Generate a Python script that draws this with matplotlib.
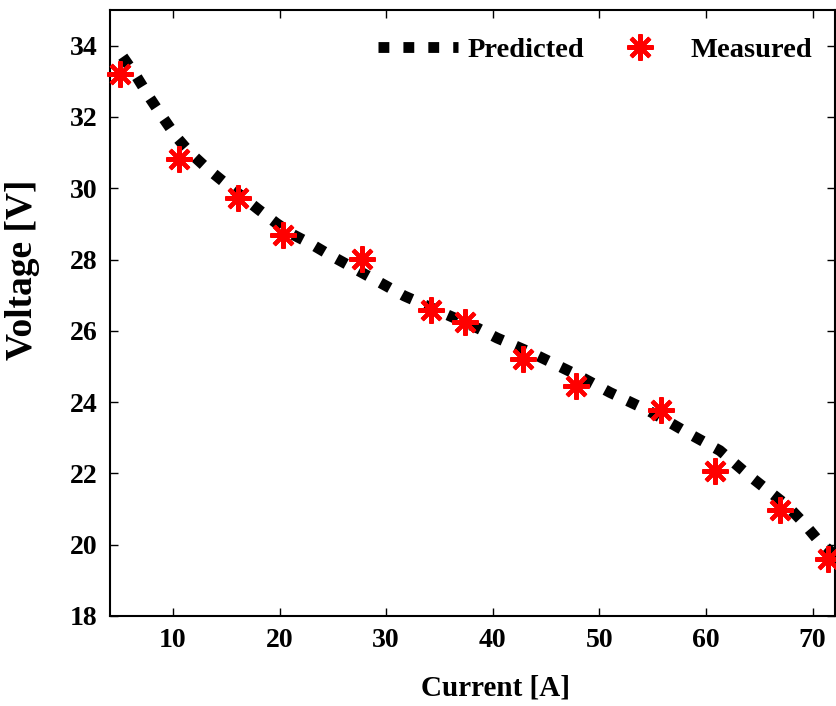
import matplotlib
matplotlib.use("Agg")
import matplotlib.pyplot as plt

# Predicted curve
pred_current = [5.3, 6.6, 7.8, 9.05, 10.3, 11.6, 13.2, 14.8, 18.0, 19.7, 21.2, 23.0,
                24.7, 30.0, 31.7, 38.7, 40.4, 43.8, 48.0, 51.0, 54.6, 56.3, 58.5,
                61.3, 64.0, 67.6, 69.1, 70.5, 72.1]
pred_voltage = [33.69, 33.13, 32.55, 31.99, 31.45, 31.0, 30.56, 30.17, 29.41, 29.02,
                28.71, 28.43, 28.13, 27.26, 26.98, 26.06, 25.8, 25.36, 24.75, 24.27,
                23.76, 23.48, 23.1, 22.64, 21.95, 21.1, 20.63, 20.13, 19.7]

# Measured points
meas_current = [5.0, 10.6, 16.1, 20.3, 27.7, 34.2, 37.4, 42.8, 47.8, 55.8, 60.8, 66.9, 71.4]
meas_voltage = [33.2, 30.81, 29.72, 28.69, 28.01, 26.59, 26.25, 25.22, 24.46, 23.79, 22.06, 20.97, 19.59]

xticks = [10, 20, 30, 40, 50, 60, 70]
yticks = [18, 20, 22, 24, 26, 28, 30, 32, 34]

plt.rcParams['font.family'] = ['Liberation Serif', 'DejaVu Serif']
plt.rcParams['font.weight'] = 'bold'

fig = plt.figure(figsize=(8.37, 7.06), dpi=100)
ax = fig.add_axes([0.1314, 0.1275, 0.8662, 0.8583])

ax.plot(pred_current, pred_voltage, color='black', linewidth=7.8,
        linestyle=(0, (1, 1.3)), dash_capstyle='butt', label='Predicted')
ax.plot(meas_current, meas_voltage, linestyle='none', marker=(8, 2, 0),
        markersize=19, markeredgewidth=3, color='red', markeredgecolor='red',
        label='Measured', clip_on=False, zorder=3)

ax.set_xlim(4.1, 72.1)
ax.set_ylim(18, 35)
ax.set_xticks(xticks)
ax.set_yticks(yticks)
ax.tick_params(direction='in', length=6, width=1, top=True, right=True,
               labelsize=20, pad=9)
for lab in ax.get_xticklabels() + ax.get_yticklabels():
    lab.set_fontweight('bold')
for sp in ax.spines.values():
    sp.set_linewidth(1.5)

ax.set_xlabel('Current [A]', fontsize=21, fontweight='bold')
ax.set_ylabel('Voltage [V]', fontsize=27, fontweight='bold')
ax.xaxis.set_label_coords(0.532, -0.096)
ax.yaxis.set_label_coords(-0.096, 0.571)

leg = ax.legend(loc='upper right', bbox_to_anchor=(0.968, 0.955), ncol=2,
                frameon=False, handlelength=2.8, handletextpad=0.35,
                columnspacing=0.56, borderaxespad=0.0, borderpad=0.0,
                prop={'weight': 'bold', 'size': 20.5})

fig.savefig('out.png', dpi=100)
